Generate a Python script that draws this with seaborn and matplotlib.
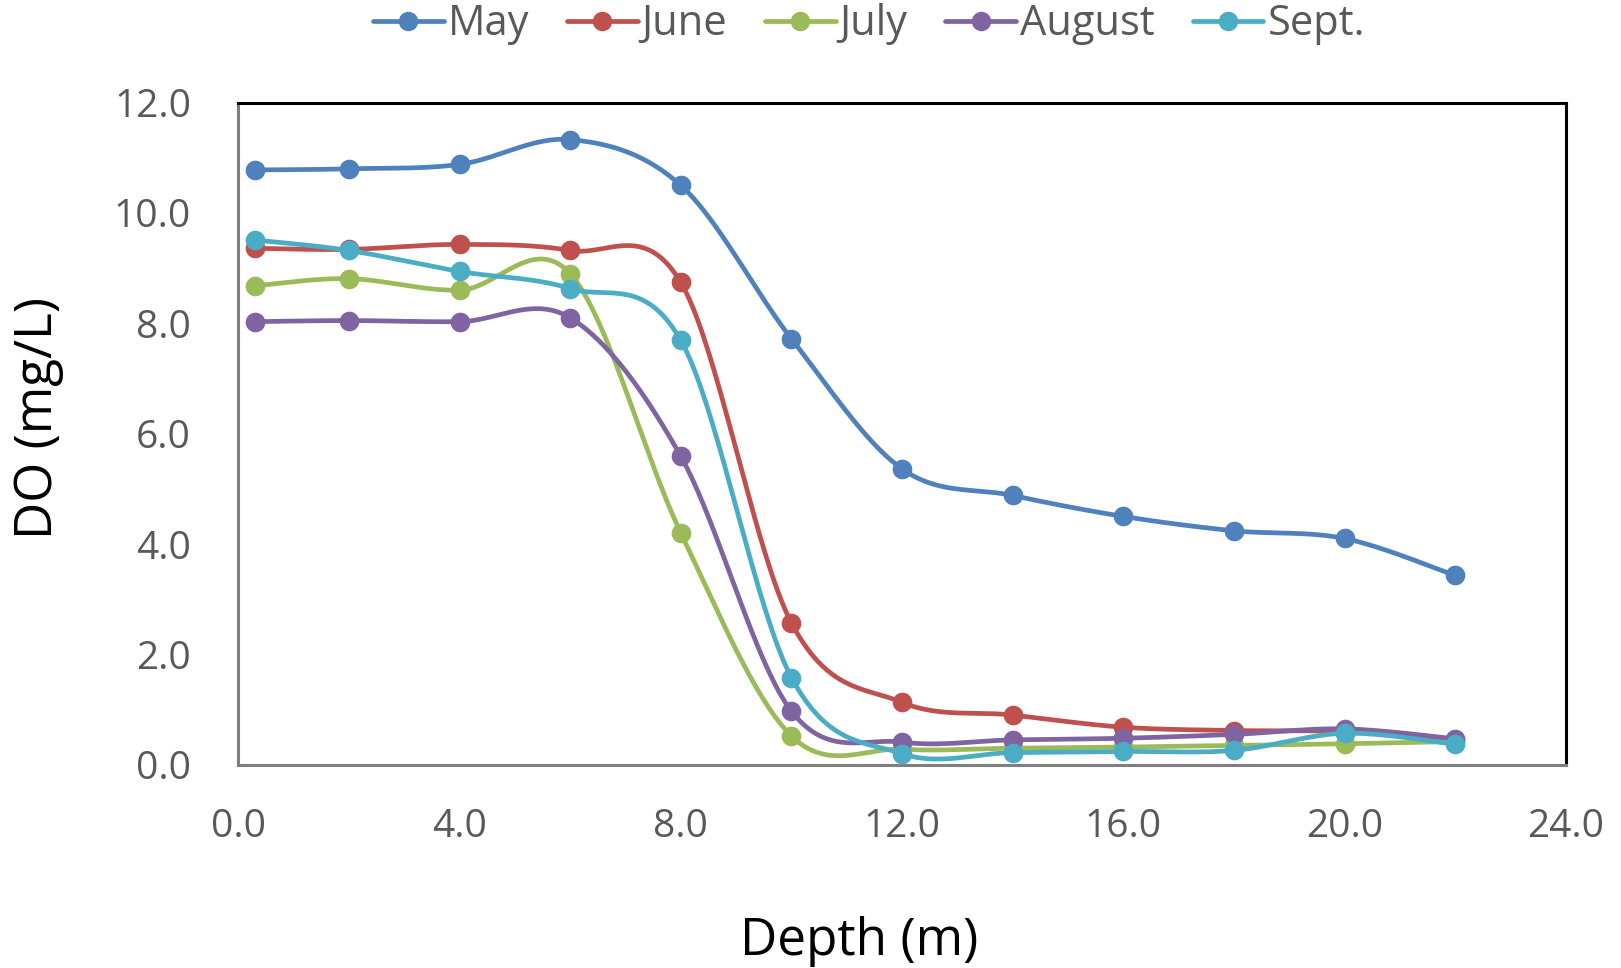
import numpy as np
import pandas as pd
import matplotlib
matplotlib.use("Agg")
import matplotlib.pyplot as plt
import seaborn as sns
from matplotlib.lines import Line2D

# Depth of each sampling point (m)
depth = [0.3, 2.0, 4.0, 6.0, 8.0, 10.0, 12.0, 14.0, 16.0, 18.0, 20.0, 22.0]

# Dissolved oxygen (mg/L) per month
do_may = [10.78, 10.80, 10.88, 11.33, 10.50, 7.72, 5.36, 4.88, 4.50, 4.24, 4.10, 3.43]
do_june = [9.36, 9.34, 9.43, 9.32, 8.74, 2.57, 1.13, 0.90, 0.68, 0.62, 0.60, 0.45]
do_july = [8.68, 8.81, 8.60, 8.90, 4.20, 0.52, 0.28, 0.30, 0.32, 0.35, 0.38, 0.42]
do_august = [8.03, 8.05, 8.03, 8.10, 5.59, 0.97, 0.41, 0.45, 0.48, 0.55, 0.65, 0.47]
do_sept = [9.51, 9.32, 8.94, 8.63, 7.69, 1.58, 0.20, 0.22, 0.24, 0.26, 0.57, 0.37]

months = ["May", "June", "July", "August", "Sept."]
series = [do_may, do_june, do_july, do_august, do_sept]
colors = ["#4F81BD", "#C0504D", "#9BBB59", "#8064A2", "#4BACC6"]

x_ticks = [0, 4, 8, 12, 16, 20, 24]
y_ticks = [0, 2, 4, 6, 8, 10, 12]


def smooth_curve(x, y, n=40):
    """Cubic Bezier smoothing through every point (Catmull-Rom style tangents)."""
    x = np.asarray(x, float)
    y = np.asarray(y, float)
    px = np.concatenate([[x[0]], x, [x[-1]]])
    py = np.concatenate([[y[0]], y, [y[-1]]])
    xs, ys = [], []
    t = np.linspace(0, 1, n)
    for i in range(1, len(px) - 2):
        p0 = np.array([px[i], py[i]])
        p3 = np.array([px[i + 1], py[i + 1]])
        c1 = p0 + (np.array([px[i + 1], py[i + 1]]) - np.array([px[i - 1], py[i - 1]])) / 6
        c2 = p3 - (np.array([px[i + 2], py[i + 2]]) - np.array([px[i], py[i]])) / 6
        b = ((1 - t) ** 3)[:, None] * p0 + (3 * (1 - t) ** 2 * t)[:, None] * c1 \
            + (3 * (1 - t) * t ** 2)[:, None] * c2 + (t ** 3)[:, None] * p3
        xs.append(b[:, 0] if i == 1 else b[1:, 0])
        ys.append(b[:, 1] if i == 1 else b[1:, 1])
    return np.concatenate(xs), np.concatenate(ys)


sns.set_theme(style="white")
plt.rcParams["font.family"] = ["Open Sans", "DejaVu Sans"]

fig = plt.figure(figsize=(16.21, 9.68), dpi=100)
ax = fig.add_axes([0.147, 0.210, 0.819, 0.684])

points = pd.DataFrame({
    "depth": np.tile(depth, len(months)),
    "DO": np.concatenate(series),
    "month": np.repeat(months, len(depth)),
})

for k, (name, vals, col) in enumerate(zip(months, series, colors)):
    sx, sy = smooth_curve(depth, vals)
    curve = pd.DataFrame({"depth": sx, "DO": sy})
    sns.lineplot(data=curve, x="depth", y="DO", ax=ax, color=col, lw=3.4,
                 sort=False, estimator=None, zorder=2 + 2 * k)
    sns.scatterplot(data=points[points["month"] == name], x="depth", y="DO",
                    ax=ax, color=col, s=200, edgecolor=col, linewidth=0,
                    zorder=3 + 2 * k, legend=False)

ax.set_xlim(0, 24)
ax.set_ylim(0, 12)
ax.set_xticks(x_ticks)
ax.set_yticks(y_ticks)
ax.set_xticklabels([f"{v:.1f}" for v in x_ticks], fontsize=28, color="#595959")
ax.set_yticklabels([f"{v:.1f}" for v in y_ticks], fontsize=28, color="#595959")
ax.tick_params(axis="x", length=0, pad=31)
ax.tick_params(axis="y", length=0, pad=34)
ax.grid(False)

ax.set_xlabel("Depth (m)", fontsize=37, color="black")
ax.set_ylabel("DO (mg/L)", fontsize=37, color="black")
ax.xaxis.set_label_coords(0.468, -0.229)
ax.yaxis.set_label_coords(-0.131, 0.523)

for side in ["top", "right"]:
    ax.spines[side].set_color("black")
    ax.spines[side].set_linewidth(2.2)
for side in ["left", "bottom"]:
    ax.spines[side].set_color("#7F7F7F")
    ax.spines[side].set_linewidth(2.2)

handles = [Line2D([0], [0], color=c, lw=3.4, marker="o", markersize=13) for c in colors]
fig.legend(handles, months, loc="center", bbox_to_anchor=(0.536, 0.975),
           ncol=5, frameon=False, fontsize=30, labelcolor="#595959",
           handlelength=1.7, handletextpad=0.1, columnspacing=0.9,
           borderpad=0.0)

fig.savefig("out.png", dpi=100)
